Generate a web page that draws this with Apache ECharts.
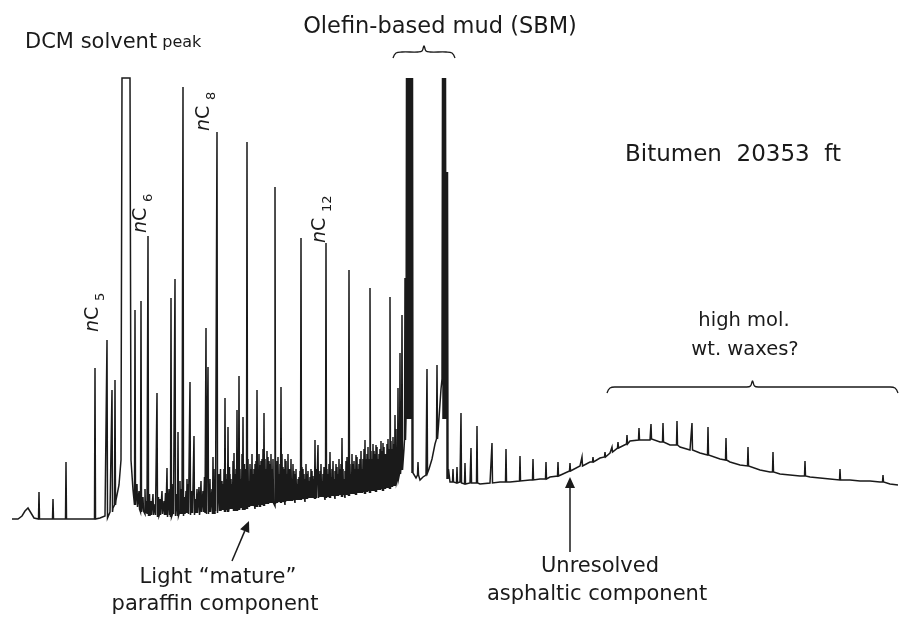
<!DOCTYPE html>
<html>
<head>
<meta charset="utf-8">
<script src="https://cdn.jsdelivr.net/npm/echarts@6/dist/echarts.min.js"></script>
<style>
  html, body { margin: 0; padding: 0; background: #ffffff; }
  #chart { width: 902px; height: 619px; }
</style>
</head>
<body>
<div id="chart"></div>
<script>
// Bitumen extract, 20353 ft — whole-oil gas chromatogram.
// x: retention (scan units), y: detector response (arbitrary units).

// Baseline / hump of the trace (including the off-scale DCM solvent peak)
const baseline = [
  [12,100],[18,100],[22,103],[25,108],[28,111],[31,106],[34,101],[45,100],[60,100],[75,100],
  [90,100],[100,101],[105,103],[110,107],[113,111],[116,119],[119,134],[121,159],
  [122,541],[130,541],
  [131,159],[133,129],[136,116],[140,109],[145,105],[150,103],
  [155,104],[160,106],[165,103],[170,107],[175,104],[180,108],[185,105],[190,107],[195,104],[200,108],
  [205,106],[210,109],[215,105],[220,110],[225,107],[230,111],[235,108],[240,112],[245,109],[250,113],
  [255,110],[260,115],[265,112],[270,116],[275,113],[280,117],[285,114],[290,118],[295,116],[300,120],
  [305,117],[310,121],[315,118],[320,122],[325,119],[330,123],[335,120],[340,124],[345,121],[350,125],
  [355,123],[360,127],[365,125],[370,129],[375,127],[380,131],[385,130],[390,135],[396,138],[401,152],[404,170],
  [414,146],[416,141],[418.8,144],[420,139],[423,142],[426,144],[429,150],[432,160],[435,175],[438.6,195],[441,230],[442,240],
  [448.5,150],[450,137],[455,135],[460,137],[465,134],[470,136],[480,135],[490,136],[500,137],[510,137],
  [520,138],[530,139],[540,140],[550,142],[560,144],[570,148],[580,153],[590,157],[600,161],[610,166],
  [620,172],[630,178],[640,181],[650,179],[660,177],[670,174],[680,172],[690,169],[700,166],[710,163],
  [720,160],[730,157],[740,154],[750,152],[760,149],[770,147],[780,145],[790,144],[800,143],[810,142],
  [820,141],[830,140],[840,139],[850,139],[860,138],[870,138],[880,137],[890,135],[898,134]
];

// Resolved peaks: [retention, apex, foot]
const peaks = [
  [39,127,100],[53,120,100],[66,157,100],[95,251,100],[107,279,101],[112,229,107],[115,239,114],
  [135,309,114],[141,318,107],[148,383,103],[157,226,102],[167,151,102],[171,321,102],[175,340,103],
  [178,187,103],[183,532,103],[190,237,104],[194,183,104],[199,132,104],[206,291,105],[208,252,105],
  [213,162,105],[217,487,106],[225,221,107],[228,192,107],[234,166,108],[237,209,108],[239,243,109],
  [243,202,109],[247,477,110],[257,229,112],[260,154,112],[264,206,113],[275,432,115],[281,232,116],
  [301,381,119],[315,179,120],[318,174,121],[326,376,121],[330,167,121],[342,181,122],[349,349,123],
  [356,164,124],[365,179,125],[370,331,126],[376,174,127],[383,176,128],[390,322,130],[395,204,133],
  [398,231,140],[400,266,145],[402,304,149],[405,341,179],
  [418,157,144],[427,250,146],[437,254,180],
  [453,150,137],[457,152,136],[461,206,136],[465,156,135],[471,171,136],[477,193,136],[492,176,136],
  [506,170,137],[520,163,138],[533,160,139],[546,157,140],[558,157,143],[570,156,148],[582,162,153],
  [593,162,157],[605,167,162],[612,172,167],
  [618,177,171],[627,184,175],[639,191,179],[651,195,180],[663,196,177],[677,198,174],[692,196,169],
  [708,192,164],[726,181,159],[748,172,153],[773,167,147],[805,158,143],[840,150,139],[883,144,137]
];

// Off-scale olefin (SBM) contaminant peaks, drawn as tight clusters
const sbmPeaks = [
  [406.5,541,200],[407.5,541,200],[408.5,541,200],[409.5,541,200],[410.5,541,200],[411.5,541,200],[412.5,541,146],
  [442.5,541,240],[443.5,541,200],[444.5,541,200],[445.5,541,200],[446.5,447,200],[447.5,447,140]
];

// Unresolved small components between the n-alkanes
const minorPeaks = [
  [137,135,112],[139,128,110],[143,122,108],[145,130,106],[146.5,118,105],[149.5,125,104],[151,118,104],
  [153,125,104],[155,115,104],[158.5,122,103],[160,120,104],[162,128,105],[164,118,104],[165.5,126,104],
  [169,130,104],[173,135,105],[177,125,105],[180,138,105],[181.5,130,105],[184.5,122,105],[186,128,106],
  [187,140,106],[188,135,105],[191.5,128,106],[192,125,106],[195.5,120,106],[197,130,106],[201,138,107],
  [203,128,107],[204.5,142,107],[209,135,107],[210,140,107],[212,130,107],[214,150,108],[215,135,108],
  [219,145,108],[220.5,150,108],[222,138,109],[223,135,109],[224,150,109],[226,145,109],[227,140,109],
  [229.5,152,110],[230,145,110],[231,140,110],[232,135,110],[233,158,110],[235,145,111],[236,150,111],
  [238,160,111],[240,150,111],[241,140,111],[242,165,112],[244.5,155,112],[245,148,112],[246,150,112],
  [248,160,112],[249,138,112],[250,155,113],[251,150,113],[252,165,113],[253,145,113],[254,150,113],
  [255,155,113],[256,158,114],[258,148,114],[259,165,114],[261,158,114],[262,160,114],[263,170,115],
  [265,160,115],[266,150,115],[267,168,115],[268,162,115],[269,158,116],[270,155,116],[271,165,116],
  [272,150,116],[273,160,116],[276,150,116],[277,158,116],[278,162,117],[279,145,117],[280,155,117],
  [282,165,117],[283,152,117],[284,150,117],[285,160,117],[286,158,118],[287,145,118],[288,165,118],
  [289,150,118],[290,150,118],[291,160,118],[292,140,118],[293,155,119],[294,148,119],[295,145,119],
  [296,150,119],[297,135,119],[298,140,119],[299,142,119],[300,148,120],[302,152,120],[303,150,120],
  [304,145,120],[305,140,120],[306,155,120],[307,145,120],[308,148,121],[309,138,121],[310,142,121],
  [311,150,121],[312,148,121],[313,143,121],[314,140,121],[316,150,121],[319,145,122],[320,148,122],
  [321,155,122],[322,138,122],[323,145,122],[324,152,122],[325,140,122],[327,150,122],[328,145,122],
  [329,155,123],[331,142,123],[332,150,123],[333,158,123],[334,140,123],[335,148,123],[336,155,123],
  [337,152,123],[338,145,123],[339,160,124],[340,150,124],[341,155,124],[343,150,124],[344,140,124],
  [345,148,124],[346,158,124],[347,162,124],[348,150,125],[350,155,125],[351,145,125],[352,165,125],
  [353,155,125],[354,158,125],[355,150,126],[357,162,126],[358,150,126],[359,155,126],[360,160,126],
  [361,168,126],[362,150,126],[363,160,127],[364,170,127],[366,160,127],[367,165,127],[368,172,128],
  [369,160,128],[371,168,128],[372,160,128],[373,175,128],[374,168,128],[375,165,129],[377,172,129],
  [378,160,129],[379,165,129],[380,170,129],[381,178,130],[382,168,130],[384,172,130],[385,165,130],
  [386,165,131],[387,175,131],[388,180,131],[389,170,132],[391,178,132],[392,170,132],[393,182,133],
  [394,175,133],[396,190,136]
];

// n-alkane labels
const alkaneLabels = ['5', '6', '8', '12'];

// Build one continuous trace: each peak rises from its foot to its apex and back.
function buildTrace() {
  const pts = baseline.map(p => [p[0], p[1]]);
  const hw = 0.5;
  [].concat(peaks, sbmPeaks, minorPeaks).forEach(p => {
    pts.push([p[0] - hw, p[2]], [p[0], p[1]], [p[0] + hw, p[2]]);
  });
  return pts.map((p, i) => [p[0], p[1], i]).sort((a, b) => a[0] - b[0] || a[2] - b[2]).map(p => [p[0], p[1]]);
}

const chart = echarts.init(document.getElementById('chart'), null, { renderer: 'canvas' });
const FONT = 'DejaVu Sans';
const INK = '#1a1a1a';

function brace(x0, x1, y, h) {
  const xm = (x0 + x1) / 2;
  return [[x0, y + h], [x0 + 3, y + 1], [x0 + 9, y], [xm - 6, y], [xm - 2, y - 1], [xm, y - h],
          [xm + 2, y - 1], [xm + 6, y], [x1 - 9, y], [x1 - 3, y + 1], [x1, y + h]];
}

function alkaneLabel(num, x, y) {
  return {
    type: 'group', x: x, y: y, rotation: Math.PI / 2,
    children: [
      { type: 'text', x: 0, y: 0, style: { text: 'n', font: 'italic 19px ' + FONT, fill: INK, verticalAlign: 'bottom' } },
      { type: 'text', x: 12, y: 0, style: { text: 'C', font: '19px ' + FONT, fill: INK, verticalAlign: 'bottom' } },
      { type: 'text', x: 31, y: 4, style: { text: num, font: '13px ' + FONT, fill: INK, verticalAlign: 'bottom' } }
    ]
  };
}

function arrow(x0, y0, x1, y1) {
  const a = Math.atan2(y1 - y0, x1 - x0);
  const L = 11, W = 5;
  const bx = x1 - L * Math.cos(a), by = y1 - L * Math.sin(a);
  return [
    { type: 'line', shape: { x1: x0, y1: y0, x2: bx, y2: by }, style: { stroke: INK, lineWidth: 1.5 } },
    { type: 'polygon', shape: { points: [[x1, y1], [bx - W * Math.sin(a), by + W * Math.cos(a)], [bx + W * Math.sin(a), by - W * Math.cos(a)]] }, style: { fill: INK } }
  ];
}

const graphics = [
  { type: 'text', x: 25, y: 53, style: { text: '{a|DCM solvent}{b| peak}', verticalAlign: 'bottom', rich: {
      a: { font: '21px ' + FONT, fill: INK }, b: { font: '16px ' + FONT, fill: INK } } } },
  { type: 'text', x: 440, y: 27, style: { text: 'Olefin-based mud (SBM)', font: '22.5px ' + FONT, fill: INK, align: 'center', verticalAlign: 'middle' } },
  { type: 'polyline', shape: { points: brace(393, 455, 52, 6), smooth: 0.4 }, style: { stroke: INK, lineWidth: 1.3, fill: null } },
  { type: 'text', x: 625, y: 155, style: { text: 'Bitumen  20353  ft', font: '23px ' + FONT, fill: INK, verticalAlign: 'middle' } },
  { type: 'text', x: 744, y: 321, style: { text: 'high mol.', font: '19.5px ' + FONT, fill: INK, align: 'center', verticalAlign: 'middle' } },
  { type: 'text', x: 745, y: 350, style: { text: 'wt. waxes?', font: '19.5px ' + FONT, fill: INK, align: 'center', verticalAlign: 'middle' } },
  { type: 'polyline', shape: { points: brace(607, 898, 387, 6), smooth: 0.4 }, style: { stroke: INK, lineWidth: 1.3, fill: null } },
  { type: 'text', x: 218, y: 578, style: { text: 'Light \u201cmature\u201d', font: '21px ' + FONT, fill: INK, align: 'center', verticalAlign: 'middle' } },
  { type: 'text', x: 215, y: 605, style: { text: 'paraffin component', font: '21px ' + FONT, fill: INK, align: 'center', verticalAlign: 'middle' } },
  { type: 'text', x: 600, y: 567, style: { text: 'Unresolved', font: '21px ' + FONT, fill: INK, align: 'center', verticalAlign: 'middle' } },
  { type: 'text', x: 597, y: 595, style: { text: 'asphaltic component', font: '21px ' + FONT, fill: INK, align: 'center', verticalAlign: 'middle' } },
  alkaneLabel(alkaneLabels[0], 103, 332),
  alkaneLabel(alkaneLabels[1], 151, 233),
  alkaneLabel(alkaneLabels[2], 214, 131),
  alkaneLabel(alkaneLabels[3], 330, 243)
].concat(arrow(232, 561, 249, 521), arrow(570, 552, 570, 477));

chart.setOption({
  animation: false,
  backgroundColor: '#ffffff',
  grid: { left: 0, right: 0, top: 0, bottom: 0 },
  xAxis: { type: 'value', min: 0, max: 902, show: false },
  yAxis: { type: 'value', min: 0, max: 619, show: false },
  series: [{
    type: 'line',
    data: buildTrace(),
    showSymbol: false,
    symbol: 'none',
    sampling: null,
    lineStyle: { color: INK, width: 1.5, join: 'miter' },
    silent: true
  }],
  graphic: graphics
});
</script>
</body>
</html>
